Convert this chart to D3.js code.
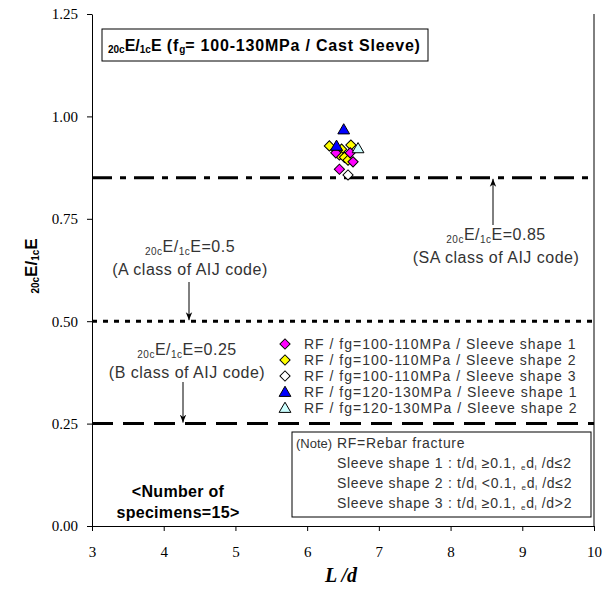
<!DOCTYPE html>
<html>
<head>
<meta charset="utf-8">
<script src="https://cdn.jsdelivr.net/npm/d3@7"></script>
<style>
  body { margin: 0; background: #fff; }
  svg { display: block; }
</style>
</head>
<body>
<svg id="chart" width="610" height="590"></svg>
<script>
// Axis ticks
const xTicks = [3, 4, 5, 6, 7, 8, 9, 10];
const yTicks = [0, 0.25, 0.5, 0.75, 1.0, 1.25];

// Specimen results: L/d and 20cE/1cE per group
const rf100Shape1X = [6.40, 6.60, 6.64, 6.45];
const rf100Shape1Y = [0.911, 0.911, 0.889, 0.871];
const rf100Shape2X = [6.31, 6.61, 6.48, 6.42, 6.45, 6.52, 6.57];
const rf100Shape2Y = [0.928, 0.930, 0.920, 0.917, 0.906, 0.900, 0.893];
const rf100Shape3X = [6.57];
const rf100Shape3Y = [0.857];
const rf120Shape1X = [6.51, 6.41];
const rf120Shape1Y = [0.968, 0.928];
const rf120Shape2X = [6.71];
const rf120Shape2Y = [0.922];

const seriesLabels = [
  "RF / fg=100-110MPa / Sleeve shape 1",
  "RF / fg=100-110MPa / Sleeve shape 2",
  "RF / fg=100-110MPa / Sleeve shape 3",
  "RF / fg=120-130MPa / Sleeve shape 1",
  "RF / fg=120-130MPa / Sleeve shape 2"
];
const seriesShapes = ["diamond", "diamond", "diamond", "triangle", "triangle"];
const seriesColors = ["#ff00ff", "#ffff00", "#ffffff", "#0000ff", "#ccffff"];

// Code limit lines
const limitValues = [0.85, 0.5, 0.25];
const limitDash = ["20,8,6,8", "5,6", "21,10"];

const svg = d3.select("#chart");
const x = d3.scaleLinear().domain([3, 10]).range([92, 594]);
const y = d3.scaleLinear().domain([0, 1.25]).range([526, 14]);

const sansFont = "'Liberation Sans', Arial, sans-serif";
const serifFont = "'Liberation Serif', 'Times New Roman', serif";

// Limit lines
svg.append("g").selectAll("line")
  .data(limitValues)
  .join("line")
  .attr("x1", x(3)).attr("x2", x(10))
  .attr("y1", d => y(d)).attr("y2", d => y(d))
  .attr("stroke", "#000")
  .attr("stroke-width", 3)
  .attr("stroke-dasharray", (d, i) => limitDash[i]);

// Axes
const yAxis = svg.append("g")
  .attr("transform", `translate(${x(3)},0)`)
  .call(d3.axisLeft(y).tickValues(yTicks).tickFormat(d3.format(".2f")).tickSize(5).tickSizeOuter(0).tickPadding(9));
const xAxis = svg.append("g")
  .attr("transform", `translate(0,${y(0)})`)
  .call(d3.axisBottom(x).tickValues(xTicks).tickFormat(d3.format("d")).tickSize(5).tickSizeOuter(0).tickPadding(15));
[yAxis, xAxis].forEach(g => {
  g.selectAll("text").attr("font-family", serifFont).attr("font-size", 15).attr("fill", "#000");
  g.selectAll("line,path").attr("stroke", "#000");
});
svg.append("line")
  .attr("x1", x(10)).attr("x2", x(10))
  .attr("y1", y(1.25)).attr("y2", y(0))
  .attr("stroke", "#000");

// Marker symbols
const diamond = d3.symbol().type(d3.symbolSquare).size(52);
const triangle = d3.symbol().type(d3.symbolTriangle).size(60);
function drawMarker(g, shape, color, px, py) {
  if (shape === "diamond") {
    g.append("path").attr("d", diamond())
      .attr("transform", `translate(${px},${py}) rotate(45)`)
      .attr("fill", color).attr("stroke", "#000").attr("stroke-width", 1);
  } else {
    g.append("path").attr("d", triangle())
      .attr("transform", `translate(${px},${py + 1})`)
      .attr("fill", color).attr("stroke", "#000").attr("stroke-width", 1);
  }
}

const seriesX = [rf100Shape1X, rf100Shape2X, rf100Shape3X, rf120Shape1X, rf120Shape2X];
const seriesY = [rf100Shape1Y, rf100Shape2Y, rf100Shape3Y, rf120Shape1Y, rf120Shape2Y];
const pts = svg.append("g");
// draw order: white, yellow, magenta, light blue, blue
[2, 1, 0, 4, 3].forEach(i => {
  seriesX[i].forEach((vx, j) => drawMarker(pts, seriesShapes[i], seriesColors[i], x(vx), y(seriesY[i][j])));
});

// Title box
svg.append("rect").attr("x", 102).attr("y", 29).attr("width", 326).attr("height", 32)
  .attr("fill", "#fff").attr("stroke", "#000").attr("stroke-width", 1);
const title = svg.append("text").attr("x", 108).attr("y", 51)
  .attr("font-family", sansFont).attr("font-weight", "bold").attr("font-size", 16).attr("fill", "#000");
title.append("tspan").attr("font-size", 10).attr("dy", 2).text("20c");
title.append("tspan").attr("dy", -2).text("E/");
title.append("tspan").attr("font-size", 10).attr("dy", 2).text("1c");
title.append("tspan").attr("dy", -2).text("E");
title.append("tspan").attr("letter-spacing", 0.8).text(" (f");
title.append("tspan").attr("font-size", 10).attr("dy", 2).text("g");
title.append("tspan").attr("dy", -2).attr("letter-spacing", 0.8).text("= 100-130MPa / Cast Sleeve)");

// Y axis title
const yTitle = svg.append("text").attr("transform", "translate(37,266) rotate(-90)")
  .attr("text-anchor", "middle")
  .attr("font-family", sansFont).attr("font-weight", "bold").attr("font-size", 17).attr("fill", "#000");
yTitle.append("tspan").attr("font-size", 10).attr("dy", 2).text("20c");
yTitle.append("tspan").attr("dy", -2).text("E/");
yTitle.append("tspan").attr("font-size", 10).attr("dy", 2).text("1c");
yTitle.append("tspan").attr("dy", -2).text("E");

// X axis title
svg.append("text").attr("x", 341).attr("y", 582).attr("text-anchor", "middle")
  .attr("font-family", serifFont).attr("font-weight", "bold").attr("font-style", "italic")
  .attr("font-size", 20).attr("fill", "#000").text("L /d");

// Arrowhead
svg.append("defs").append("marker")
  .attr("id", "arrow").attr("viewBox", "0 0 10 10").attr("refX", 10).attr("refY", 5)
  .attr("markerWidth", 8).attr("markerHeight", 8).attr("markerUnits", "userSpaceOnUse")
  .attr("orient", "auto")
  .append("path").attr("d", "M0,1 L10,5 L0,9 L3,5 Z").attr("fill", "#000");

// Limit annotations
const notes = [
  { cx: 496, by: 240, value: "0.85", cls: "(SA class of AIJ code)", ax: 493, ay1: 225, ay2: y(0.85) + 1 },
  { cx: 190, by: 252, value: "0.5", cls: "(A class of AIJ code)", ax: 189, ay1: 282, ay2: y(0.5) - 1 },
  { cx: 187, by: 355, value: "0.25", cls: "(B class of AIJ code)", ax: 183, ay1: 382, ay2: y(0.25) - 1 }
];
notes.forEach(n => {
  const t = svg.append("text").attr("x", n.cx).attr("y", n.by).attr("text-anchor", "middle")
    .attr("font-family", sansFont).attr("font-size", 16).attr("letter-spacing", 0.5).attr("fill", "#333");
  t.append("tspan").attr("font-size", 10).attr("dy", 3).text("20c");
  t.append("tspan").attr("dy", -3).text("E/");
  t.append("tspan").attr("font-size", 10).attr("dy", 3).text("1c");
  t.append("tspan").attr("dy", -3).text("E=" + n.value);
  svg.append("text").attr("x", n.cx).attr("y", n.by + 23).attr("text-anchor", "middle")
    .attr("font-family", sansFont).attr("font-size", 16).attr("letter-spacing", 0.5)
    .attr("fill", "#333").text(n.cls);
  svg.append("line").attr("x1", n.ax).attr("x2", n.ax).attr("y1", n.ay1).attr("y2", n.ay2)
    .attr("stroke", "#000").attr("stroke-width", 1).attr("marker-end", "url(#arrow)");
});

// Legend
const legendRows = [344, 360, 376, 392, 408];
const legend = svg.append("g");
seriesLabels.forEach((label, i) => {
  drawMarker(legend, seriesShapes[i], seriesColors[i], 285, legendRows[i]);
  legend.append("text").attr("x", 304).attr("y", legendRows[i] + 5)
    .attr("font-family", sansFont).attr("font-size", 14).attr("letter-spacing", 1)
    .attr("fill", "#333").text(label);
});

// Note box
svg.append("rect").attr("x", 292).attr("y", 432).attr("width", 299).attr("height", 85)
  .attr("fill", "#fff").attr("stroke", "#000").attr("stroke-width", 1);
const noteSize = 14, noteSpacing = 0.7;
svg.append("text").attr("x", 296).attr("y", 448)
  .attr("font-family", sansFont).attr("font-size", 13)
  .attr("fill", "#333").text("(Note)");
svg.append("text").attr("x", 337).attr("y", 448)
  .attr("font-family", sansFont).attr("font-size", noteSize).attr("letter-spacing", noteSpacing)
  .attr("fill", "#333").text("RF=Rebar fracture");
const shapeDefs = [
  ["1", "≥0.1,", "≤2"],
  ["2", "<0.1, ", "≤2"],
  ["3", "≥0.1,", ">2"]
];
shapeDefs.forEach((s, i) => {
  const t = svg.append("text").attr("x", 337).attr("y", 468 + i * 20)
    .attr("font-family", sansFont).attr("font-size", noteSize).attr("letter-spacing", noteSpacing)
    .attr("fill", "#333");
  t.append("tspan").text(`Sleeve shape ${s[0]} : t/d`);
  t.append("tspan").attr("font-size", 8).attr("dy", 2).text("i");
  t.append("tspan").attr("dy", -2).text(` ${s[1]} `);
  t.append("tspan").attr("font-size", 8).attr("dy", 2).text("e");
  t.append("tspan").attr("dy", -2).text("d");
  t.append("tspan").attr("font-size", 8).attr("dy", 2).text("i");
  t.append("tspan").attr("dy", -2).text(` /d${s[2]}`);
});

// Specimen count
const countText = svg.append("text").attr("text-anchor", "middle")
  .attr("font-family", sansFont).attr("font-weight", "bold").attr("font-size", 16)
  .attr("letter-spacing", 0.3).attr("fill", "#000");
countText.append("tspan").attr("x", 178).attr("y", 497).text("<Number of");
countText.append("tspan").attr("x", 178).attr("y", 518).text("specimens=15>");
</script>
</body>
</html>
